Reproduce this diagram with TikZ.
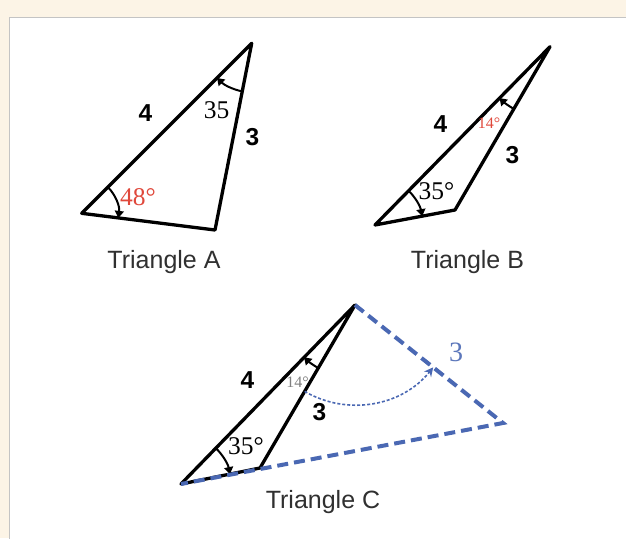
\documentclass[tikz,border=0pt]{standalone}
\usepackage{fontspec}
\setmainfont{Liberation Serif}
\setsansfont{Liberation Sans}
\usetikzlibrary{arrows.meta, angles, calc}
\definecolor{cream}{HTML}{FCF4E6}
\definecolor{framegray}{HTML}{C4C4C4}
\definecolor{angred}{HTML}{E0483B}
\definecolor{newblue}{HTML}{4A68B3}
\definecolor{capgray}{HTML}{303030}

\begin{document}
\begin{tikzpicture}[x=1pt, y=1pt,
    side/.style={line width=3.3pt, line join=round, line cap=round},
    angarc/.style={draw, line width=2pt, {Triangle[length=7pt,width=9pt]}-},
    lenlab/.style={font=\sffamily\bfseries\fontsize{24.5}{24.5}\selectfont, inner sep=0pt},
    anglab/.style={font=\fontsize{25.5}{25.5}\selectfont, inner sep=0pt},
    smalllab/.style={font=\fontsize{16}{16}\selectfont, inner sep=0pt},
    caption/.style={font=\sffamily\fontsize{25}{25}\selectfont, text=capgray, anchor=base, inner sep=0pt},
    newside/.style={newblue, line width=4pt, dash pattern=on 11pt off 6pt}]
  \useasboundingbox (0,0) rectangle (626,-538);
  % page and panel
  \fill[cream] (0,0) rectangle (626,-538);
  \filldraw[fill=white, draw=framegray, line width=1.5pt] (9.5,-17.5) rectangle (640,-560);

  % triangle A
  \coordinate (TA) at (251.7,-43.3);
  \coordinate (LA) at (81.7,-213.3);
  \coordinate (RA) at (215,-230);
  \draw[side] (TA) -- (LA) -- (RA) -- cycle;
  \pic[angarc, angle radius=37pt] {angle = RA--LA--TA};
  \pic[angarc, angle radius=49pt] {angle = LA--TA--RA};
  \node[lenlab] (a4) at (145.5,-113.5) {4};
  \node[lenlab] (a3) at (252.5,-137.5) {3};
  \node[anglab] (a35) at (216.5,-110) {35};
  \node[anglab, text=angred] (a48) at (138,-197) {48°};
  \node[caption] (capA) at (164,-268.3) {Triangle A};

  % triangle B
  \coordinate (TB) at (550,-46.7);
  \coordinate (LB) at (375,-225);
  \coordinate (OB) at (455,-210);
  \draw[side] (TB) -- (LB) -- (OB) -- cycle;
  \pic[angarc, angle radius=48pt] {angle = OB--LB--TB};
  \pic[angarc, angle radius=72pt] {angle = LB--TB--OB};
  \node[lenlab] (b4) at (440.5,-124.5) {4};
  \node[lenlab] (b3) at (512.5,-155) {3};
  \node[smalllab, text=angred] (b14) at (489,-123) {14°};
  \node[anglab] (b35) at (436.5,-191.5) {35°};
  \node[caption] (capB) at (467.5,-268.3) {Triangle B};

  % triangle C, with the side 3 swung round
  \coordinate (TC) at (355,-305);
  \coordinate (LC) at (181,-484);
  \coordinate (OC) at (260,-468);
  \coordinate (RC) at (503,-423);
  \draw[side] (TC) -- (LC) -- (OC) -- cycle;
  \pic[angarc, angle radius=50pt] {angle = OC--LC--TC};
  \pic[angarc, angle radius=73pt] {angle = LC--TC--OC};
  \draw[newside] (TC) -- (RC) -- (LC);
  \pic[draw=newblue, line width=1.6pt, dash pattern=on 3pt off 2pt,
       -{Stealth[length=9pt,width=9pt]}, angle radius=100pt] {angle = OC--TC--RC};
  \node[lenlab] (c4) at (247.5,-380.5) {4};
  \node[lenlab] (c3) at (319.5,-412.5) {3};
  \node[smalllab, text=gray] (c14) at (297.5,-382.5) {14°};
  \node[anglab] (c35) at (246,-446) {35°};
  \node[font=\fontsize{28}{28}\selectfont, inner sep=0pt, text=newblue!90!white] (c3new) at (456,-352) {3};
  \node[caption] (capC) at (323,-508) {Triangle C};
\end{tikzpicture}
\end{document}
